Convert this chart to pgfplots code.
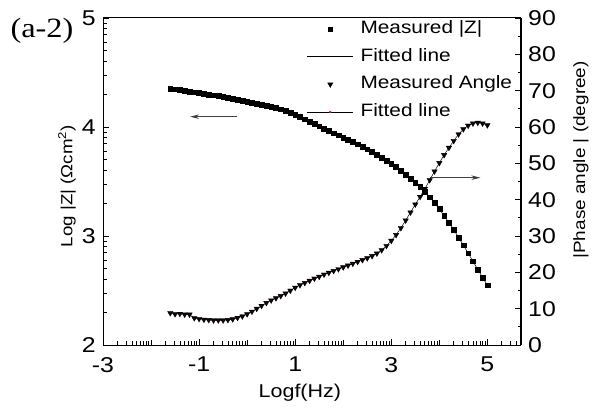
\documentclass[border=0pt]{standalone}
\usepackage{fontspec}
\setmainfont{Liberation Sans}[FakeStretch=1.16]
\newfontfamily\labelserif{Liberation Serif}[FakeStretch=1.16]
\usepackage{pgfplots}
\pgfplotsset{compat=1.18}
\usepackage{pgfplotstable}
\usetikzlibrary{arrows.meta}

\pgfplotsset{
  marklegend/.style={legend image code/.code={\draw[##1] plot coordinates {(23bp,0bp)};}},
  linelegend/.style={legend image code/.code={\draw[##1] (0bp,0bp) -- (46bp,0bp);}},
  fitlegend/.style={legend image code/.code={%
      \draw[black, line width=0.6bp] (0bp,0bp) -- (46bp,0bp);
      \fill[magenta] (23bp,0bp) circle (0.9bp);}},
}

% log f (Hz), log |Z| (Ohm cm^2), |phase angle| (degree)
\pgfplotstableread{
x     z      ph
-1.6  4.355  8.8
-1.5  4.347  8.5
-1.4  4.340  8.6
-1.3  4.333  8.4
-1.2  4.326  8.4
-1.1  4.319  7.4
-1.0  4.312  7.2
-0.9  4.305  7.0
-0.8  4.298  6.9
-0.7  4.291  6.8
-0.6  4.284  6.8
-0.5  4.276  6.8
-0.4  4.268  6.9
-0.3  4.260  7.1
-0.2  4.252  7.5
-0.1  4.244  7.9
0.0   4.235  8.5
0.1   4.226  9.2
0.2   4.217  10.0
0.3   4.207  10.8
0.4   4.197  11.6
0.5   4.187  12.3
0.6   4.176  12.9
0.7   4.163  13.5
0.8   4.148  14.2
0.9   4.131  15.0
1.0   4.112  15.8
1.1   4.092  16.5
1.2   4.071  17.1
1.3   4.050  17.7
1.4   4.029  18.3
1.5   4.007  18.8
1.6   3.986  19.4
1.7   3.965  19.9
1.8   3.944  20.4
1.9   3.924  20.9
2.0   3.904  21.4
2.1   3.884  21.9
2.2   3.863  22.4
2.3   3.842  22.9
2.4   3.820  23.4
2.5   3.797  23.9
2.6   3.773  24.5
2.7   3.748  25.2
2.8   3.722  26.1
2.9   3.694  27.3
3.0   3.665  28.7
3.1   3.634  30.3
3.2   3.601  32.2
3.3   3.566  34.3
3.4   3.529  36.5
3.5   3.490  38.7
3.6   3.449  40.8
3.7   3.405  43.0
3.8   3.356  45.4
3.9   3.303  47.8
4.0   3.247  50.1
4.1   3.187  52.3
4.2   3.124  54.3
4.3   3.057  56.2
4.4   2.987  58.0
4.5   2.915  59.4
4.6   2.842  60.4
4.7   2.768  61.0
4.8   2.694  61.2
4.9   2.620  61.0
5.0   2.548  60.5
}\eisdata

\begin{document}
\begin{tikzpicture}
\path[use as bounding box] (0,0) rectangle (599bp,410bp);
\pgfplotsset{
  eisbase/.style={
    at={(103bp,65bp)}, anchor=south west,
    scale only axis, width=418bp, height=327bp,
    xmin=-3, xmax=5.7,
    tick align=inside,
    axis line style={line width=1bp},
    major tick length=6bp, minor tick length=3.5bp,
    every tick/.style={black, line width=0.8bp},
    tick label style={font=\fontsize{21.5}{25}\selectfont, inner sep=1bp},
    /pgf/number format/assume math mode=true,
    clip=false,
  }
}
% left axis: log |Z|
\begin{axis}[eisbase,
  ymin=2, ymax=5,
  xtick={-3,-1,1,3,5}, xticklabels={-3,-1,1,3,5},
  xticklabel style={yshift=-11bp},
  yticklabel style={xshift=-6bp},
  minor xtick={-2.69897,-2.52288,-2.39794,-2.30103,-2.22185,-2.15490,-2.09691,-2.04576,
    -1.69897,-1.52288,-1.39794,-1.30103,-1.22185,-1.15490,-1.09691,-1.04576,
    -0.69897,-0.52288,-0.39794,-0.30103,-0.22185,-0.15490,-0.09691,-0.04576,
    0.30103,0.47712,0.60206,0.69897,0.77815,0.84510,0.90309,0.95424,
    1.30103,1.47712,1.60206,1.69897,1.77815,1.84510,1.90309,1.95424,
    2.30103,2.47712,2.60206,2.69897,2.77815,2.84510,2.90309,2.95424,
    3.30103,3.47712,3.60206,3.69897,3.77815,3.84510,3.90309,3.95424,
    4.30103,4.47712,4.60206,4.69897,4.77815,4.84510,4.90309,4.95424,
    5.30103,5.47712,5.60206,5.69897},
  extra x ticks={-2,0,2,4}, extra x tick labels={},
  extra x tick style={major tick length=4.5bp},
  ytick={2,3,4,5}, yticklabels={2,3,4,5},
  minor ytick={2.30103,2.47712,2.60206,2.69897,2.77815,2.84510,2.90309,2.95424,
    3.30103,3.47712,3.60206,3.69897,3.77815,3.84510,3.90309,3.95424,
    4.30103,4.47712,4.60206,4.69897,4.77815,4.84510,4.90309,4.95424},
  xtick pos=bottom, ytick pos=left,
  xlabel={Logf(Hz)},
  xlabel style={font=\fontsize{18.6}{22}\selectfont, at={(axis description cs:0.471,-0.146)}, anchor=center},
  ylabel={Log |Z| (Ωcm\textsuperscript{2})},
  ylabel style={font=\fontsize{16.2}{19}\selectfont, at={(axis description cs:-0.086,0.486)}, anchor=center},
]
\addplot[only marks, mark=square*, mark size=2.4bp, black] table[x=x, y=z] {\eisdata};
\addplot[black, line width=0.5bp, mark=none] table[x=x, y=z] {\eisdata};
\draw[black!75, line width=0.8bp, -{Stealth[length=9bp, width=4.5bp]}]
  (axis cs:-0.215,4.0945) -- (axis cs:-1.1875,4.0945);
\node[font=\labelserif\fontsize{28}{32}\selectfont] at (axis description cs:-0.146,0.96) {(a-2)};
\end{axis}

% right axis: phase angle
\begin{axis}[eisbase,
  ymin=0, ymax=90,
  axis x line=none, axis y line*=right,
  ytick={0,10,...,90}, minor ytick={5,15,...,85},
  yticklabel style={xshift=6bp},
  ylabel={|Phase angle | (degree)},
  ylabel style={font=\fontsize{16.4}{20}\selectfont, at={(axis description cs:1.1435,0.566)}, anchor=center},
  legend style={draw=none, fill=none, at={(0.488,0.992)}, anchor=north west,
    inner sep=0pt, outer sep=0pt, column sep=7bp, row sep=10.6bp,
    font=\fontsize{18}{21}\selectfont,
    nodes={inner sep=0pt, text height=13bp, text depth=4bp}},
  legend cell align=left,
]
\addlegendimage{only marks, mark=square*, mark size=2.2bp, black, marklegend}
\addlegendentry{Measured |Z|}
\addlegendimage{black, line width=0.6bp, linelegend}
\addlegendentry{Fitted line}
\addplot[only marks, mark=triangle*, mark size=3.1bp, black, mark options={rotate=180}, marklegend]
  table[x=x, y=ph] {\eisdata};
\addlegendentry{Measured Angle}
\addplot[black, line width=0.5bp, mark=*, mark size=0.9bp, mark options={draw=none, fill=magenta}, fitlegend]
  table[x=x, y=ph] {\eisdata};
\addlegendentry{Fitted line}
\draw[black!75, line width=0.8bp, -{Stealth[length=9bp, width=4.5bp]}]
  (axis cs:3.8125,46.05) -- (axis cs:4.854,46.05);
\end{axis}
\end{tikzpicture}
\end{document}
